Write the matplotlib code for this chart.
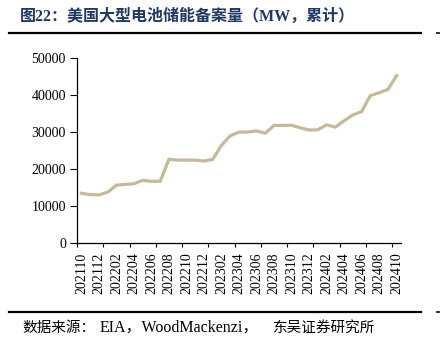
import matplotlib
matplotlib.use('Agg')
import matplotlib.pyplot as plt
from matplotlib.ticker import FixedLocator, NullFormatter
from matplotlib.lines import Line2D

# --- Data: cumulative large-scale battery storage filings in the US (MW) ---
months = ['202110', '202111', '202112', '202201', '202202', '202203', '202204',
          '202205', '202206', '202207', '202208', '202209', '202210', '202211',
          '202212', '202301', '202302', '202303', '202304', '202305', '202306',
          '202307', '202308', '202309', '202310', '202311', '202312', '202401',
          '202402', '202403', '202404', '202405', '202406', '202407', '202408',
          '202409', '202410']
capacity_mw = [13400, 13050, 12950, 13700, 15600, 15800, 16000, 16900, 16650,
               16650, 22600, 22400, 22400, 22400, 22150, 22600, 26400, 29000,
               30000, 30000, 30300, 29700, 31800, 31800, 31850, 31150, 30550,
               30600, 31950, 31350, 33050, 34650, 35550, 39900, 40650, 41550,
               45300]
yticks = [0, 10000, 20000, 30000, 40000, 50000]

TITLE = '图22：美国大型电池储能备案量（MW，累计）'
# source line is split in pieces: CJK and Latin parts use different sizes
SOURCE_PARTS = [('数据来源：', 22, 10.5), ('EIA，WoodMackenzi，', 100, 11.5),
                ('东吴证券研究所', 273, 10.5)]
LINE_COLOR = '#C6BA96'
NAVY = '#1F3864'
SERIF_CJK = ['Liberation Serif', 'Noto Sans CJK SC']

fig = plt.figure(figsize=(4.41, 3.47), dpi=100)
ax = fig.add_axes([77 / 441, 1 - 242.7 / 347, (401 - 77) / 441, (242.7 - 58.3) / 347])

x = list(range(len(months)))
ax.plot(x, capacity_mw, color=LINE_COLOR, lw=2.3, solid_joinstyle='miter')

ax.set_xlim(-0.5, len(months) - 0.5)
ax.set_ylim(0, 50000)
ax.set_yticks(yticks)
ax.set_yticklabels([str(v) for v in yticks], family='Liberation Serif', fontsize=10)

# tick marks every 3 categories (between categories), labels every 2
ax.xaxis.set_major_locator(FixedLocator([i - 0.5 for i in range(0, len(months) + 1, 3)]))
ax.xaxis.set_major_formatter(NullFormatter())
ax.xaxis.set_minor_locator(FixedLocator(x[::2]))
ax.set_xticklabels(months[::2], minor=True, rotation=90,
                   family='Liberation Serif', fontsize=10)
ax.tick_params(axis='x', which='major', length=3, width=0.8, direction='out')
ax.tick_params(axis='x', which='minor', length=0, pad=7)
ax.tick_params(axis='y', length=5, width=0.8, pad=3)

for s in ['top', 'right']:
    ax.spines[s].set_visible(False)
for s in ['left', 'bottom']:
    ax.spines[s].set_linewidth(0.9)

# header / footer
fig.text(20 / 441, 1 - 17 / 347, TITLE, family=SERIF_CJK, fontsize=11.5,
         fontweight='bold', color=NAVY, va='center', ha='left')
for yy in [33.3, 311.7]:
    fig.add_artist(Line2D([9 / 441, 421 / 441], [1 - yy / 347] * 2,
                          color='black', lw=1.6))
    fig.add_artist(Line2D([437 / 441, 439 / 441], [1 - yy / 347] * 2,
                          color='black', lw=1.2))
for txt, px, size in SOURCE_PARTS:
    fig.text(px / 441, 1 - 328 / 347, txt, family=SERIF_CJK, fontsize=size,
             color='black', va='center', ha='left')

fig.savefig('out.png', dpi=100)
